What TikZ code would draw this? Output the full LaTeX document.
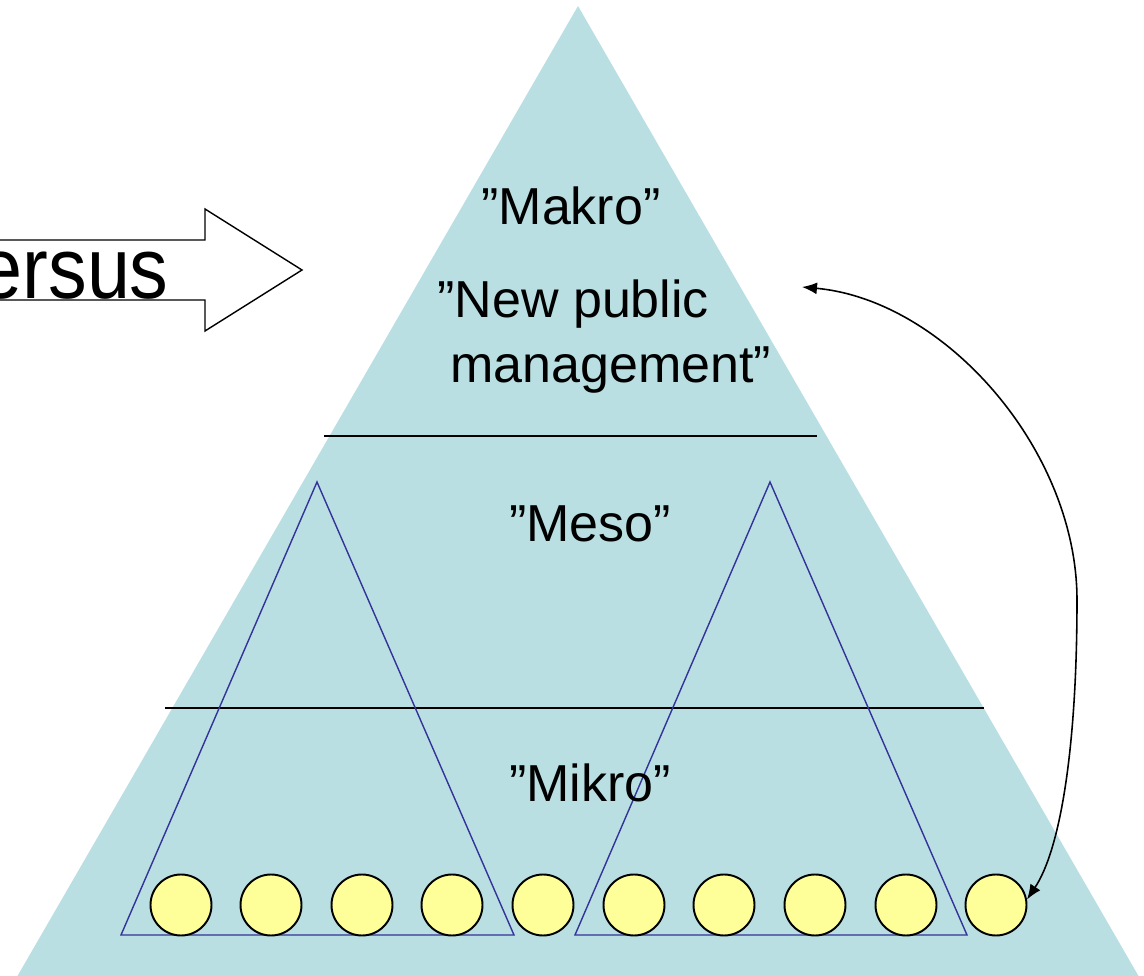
\documentclass[tikz,border=0pt]{standalone}
\usepackage{fontspec}
\setmainfont{Liberation Sans}
\usetikzlibrary{arrows.meta}
\definecolor{pyr}{RGB}{185,223,227}
\definecolor{ball}{RGB}{255,255,153}
\definecolor{tri}{RGB}{51,51,153}
\tikzset{
  lbl/.style={inner sep=0pt,font=\fontsize{29.6}{36}\selectfont},
  ballnode/.style={circle,draw=black,line width=1.1pt,fill=ball,minimum size=1.22cm,inner sep=0pt},
  subtri/.style={draw=tri,line width=0.8pt},
  level/.style={draw=black,line width=0.8pt},
  link/.style={line width=0.9pt,{Latex[length=0.3cm,width=0.24cm]}-{Latex[length=0.3cm,width=0.24cm]}}
}
\begin{document}
\begin{tikzpicture}[x=0.02cm,y=-0.02cm]
\useasboundingbox (0,0) rectangle (1144,976);
\clip (0,0) rectangle (1144,976);
% big pyramid
\fill[pyr] (578,6) -- (1142,982) -- (14,982) -- cycle;
% level lines
\draw[level] (324,436) -- (817,436);
\draw[level] (165,708) -- (984,708);
% sub triangles
\draw[subtri] (317,482) -- (514,935) -- (121,935) -- cycle;
\draw[subtri] (770,482) -- (967,935) -- (575,935) -- cycle;
% balls
\foreach \i/\x in {1/181,2/271,3/362,4/452,5/543,6/634,7/724,8/815,9/906,10/996}
  \node[ballnode] (c\i) at (\x,905) {};
% block arrow
\draw[fill=white,line width=0.8pt] (-10,240) -- (205,240) -- (205,209) -- (302,270) -- (205,331) -- (205,300) -- (-10,300);
\node[lbl,anchor=base east] (versus) at (169,299) {\scalebox{1}[1.12]{\fontsize{44}{50}\selectfont Versus}};
% texts
\node[lbl,anchor=base] (makro) at (571,225) {”Makro”};
\node[lbl,anchor=base west] (np1) at (437,318) {”New public};
\node[lbl,anchor=base west] (np2) at (450,383) {management”};
\node[lbl,anchor=base] (meso) at (590,542) {”Meso”};
\node[lbl,anchor=base] (mikro) at (590,802) {”Mikro”};
% curved link
\coordinate (top) at (802,287);
\draw[link] (top) .. controls (945,300) and (1077,450) .. (1077,600)
  .. controls (1077,750) and (1060,850) .. (c10.10);
\end{tikzpicture}
\end{document}
